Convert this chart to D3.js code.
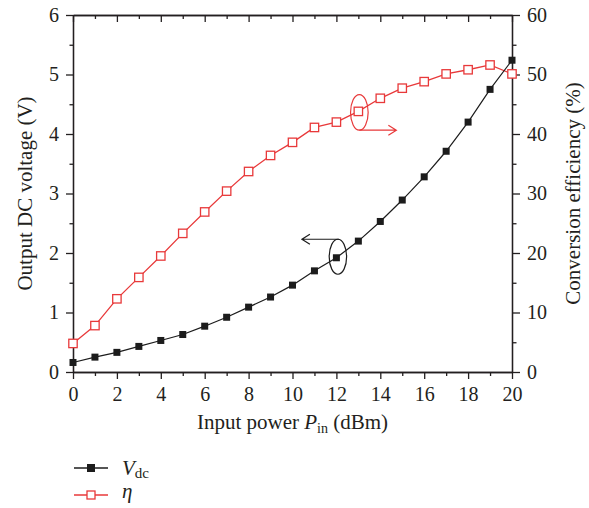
<!DOCTYPE html>
<html>
<head>
<meta charset="utf-8">
<script src="https://cdn.jsdelivr.net/npm/d3@7"></script>
<style>
  body { margin: 0; background: #fff; }
  text { font-family: "Liberation Serif", "DejaVu Serif", serif; fill: #231f20; }
</style>
</head>
<body>
<svg id="chart"></svg>
<script>
const width = 589;
const height = 508;
const margin = { top: 15, right: 77, bottom: 136, left: 73 };

// input power (dBm)
const power = [0, 1, 2, 3, 4, 5, 6, 7, 8, 9, 10, 11, 12, 13, 14, 15, 16, 17, 18, 19, 20];
// output DC voltage (V)
const vdc = [0.16, 0.25, 0.33, 0.43, 0.53, 0.63, 0.77, 0.92, 1.09, 1.26, 1.46,
    1.70, 1.92, 2.20, 2.53, 2.89, 3.28, 3.71, 4.20, 4.75, 5.24];
// conversion efficiency (%)
const eff = [4.8, 7.8, 12.3, 15.9, 19.5, 23.3, 26.9, 30.4, 33.7, 36.4, 38.6,
    41.1, 42.0, 43.8, 46.0, 47.7, 48.8, 50.1, 50.8, 51.6, 50.1];

const xTicks = [0, 2, 4, 6, 8, 10, 12, 14, 16, 18, 20];
const xMinor = [1, 3, 5, 7, 9, 11, 13, 15, 17, 19];
const yTicks = [0, 1, 2, 3, 4, 5, 6];
const yMinor = [0.5, 1.5, 2.5, 3.5, 4.5, 5.5];
const y2Ticks = [0, 10, 20, 30, 40, 50, 60];
const y2Minor = [5, 15, 25, 35, 45, 55];

const red = '#e8393a';
const black = '#1c1c1c';
const axisColor = '#231f20';

const svg = d3.select('#chart')
    .attr('width', width)
    .attr('height', height);

const x = d3.scaleLinear().domain([0, 20]).range([margin.left, width - margin.right]);
const y = d3.scaleLinear().domain([0, 6]).range([height - margin.bottom, margin.top]);
const y2 = d3.scaleLinear().domain([0, 60]).range([height - margin.bottom, margin.top]);

const x0 = margin.left, x1 = width - margin.right;
const yb = height - margin.bottom, yt = margin.top;

function styleAxis(g) {
    g.selectAll('path, line').attr('stroke', axisColor).attr('stroke-width', 1.3);
    g.selectAll('text').attr('font-size', 20).attr('font-family', '"Liberation Serif", serif').attr('fill', axisColor);
}

// bottom axis
svg.append('g').attr('transform', `translate(0, ${yb})`)
    .call(d3.axisBottom(x).tickValues(xTicks).tickSize(7).tickSizeOuter(0).tickPadding(8).tickFormat(d3.format('d')))
    .call(styleAxis);
svg.append('g').attr('transform', `translate(0, ${yb})`)
    .call(d3.axisBottom(x).tickValues(xMinor).tickSize(4).tickSizeOuter(0).tickFormat(''))
    .call(styleAxis);

// top axis, ticks inward
svg.append('g').attr('transform', `translate(0, ${yt})`)
    .call(d3.axisTop(x).tickValues(xTicks).tickSize(-7).tickSizeOuter(0).tickFormat(''))
    .call(styleAxis);
svg.append('g').attr('transform', `translate(0, ${yt})`)
    .call(d3.axisTop(x).tickValues(xMinor).tickSize(-4).tickSizeOuter(0).tickFormat(''))
    .call(styleAxis);

// left axis
svg.append('g').attr('transform', `translate(${x0}, 0)`)
    .call(d3.axisLeft(y).tickValues(yTicks).tickSize(7).tickSizeOuter(0).tickPadding(7).tickFormat(d3.format('d')))
    .call(styleAxis);
svg.append('g').attr('transform', `translate(${x0}, 0)`)
    .call(d3.axisLeft(y).tickValues(yMinor).tickSize(3.5).tickSizeOuter(0).tickFormat(''))
    .call(styleAxis);

// right axis
svg.append('g').attr('transform', `translate(${x1}, 0)`)
    .call(d3.axisRight(y2).tickValues(y2Ticks).tickSize(8).tickSizeOuter(0).tickPadding(7).tickFormat(d3.format('d')))
    .call(styleAxis);
svg.append('g').attr('transform', `translate(${x1}, 0)`)
    .call(d3.axisRight(y2).tickValues(y2Minor).tickSize(4.5).tickSizeOuter(0).tickFormat(''))
    .call(styleAxis);

// axis titles
const xTitle = svg.append('text')
    .attr('x', (x0 + x1) / 2)
    .attr('y', 429)
    .attr('text-anchor', 'middle')
    .attr('font-size', 21);
xTitle.append('tspan').text('Input power ');
xTitle.append('tspan').attr('font-style', 'italic').text('P');
xTitle.append('tspan').attr('font-size', 14).attr('dy', 4).text('in');
xTitle.append('tspan').attr('dy', -4).text(' (dBm)');

svg.append('text')
    .attr('transform', `translate(32, ${(yt + yb) / 2}) rotate(-90)`)
    .attr('text-anchor', 'middle')
    .attr('font-size', 21)
    .text('Output DC voltage (V)');

svg.append('text')
    .attr('transform', `translate(580, ${(yt + yb) / 2}) rotate(-90)`)
    .attr('text-anchor', 'middle')
    .attr('font-size', 21)
    .text('Conversion efficiency (%)');

// series
const vdcData = power.map((p, i) => ({ p: p, v: vdc[i] }));
const effData = power.map((p, i) => ({ p: p, v: eff[i] }));

svg.append('path')
    .datum(effData)
    .attr('fill', 'none')
    .attr('stroke', red)
    .attr('stroke-width', 1.3)
    .attr('d', d3.line().x(d => x(d.p)).y(d => y2(d.v)));

svg.append('path')
    .datum(vdcData)
    .attr('fill', 'none')
    .attr('stroke', black)
    .attr('stroke-width', 1.2)
    .attr('d', d3.line().x(d => x(d.p)).y(d => y(d.v)));

const rs = 4.2;
svg.selectAll('.eff-pt').data(effData).enter().append('rect')
    .attr('class', 'eff-pt')
    .attr('x', d => x(d.p) - rs)
    .attr('y', d => y2(d.v) - rs)
    .attr('width', rs * 2)
    .attr('height', rs * 2)
    .attr('fill', '#fff')
    .attr('stroke', red)
    .attr('stroke-width', 1.3);

const rb = 3.5;
svg.selectAll('.vdc-pt').data(vdcData).enter().append('rect')
    .attr('class', 'vdc-pt')
    .attr('x', d => x(d.p) - rb)
    .attr('y', d => y(d.v) - rb)
    .attr('width', rb * 2)
    .attr('height', rb * 2)
    .attr('fill', black);

// annotations: ellipses with arrows pointing to each axis
const ex = x(12) + 1.5, ey = y(vdc[12]) - 1;
svg.append('ellipse')
    .attr('cx', ex).attr('cy', ey).attr('rx', 8.7).attr('ry', 17.5)
    .attr('fill', 'none').attr('stroke', black).attr('stroke-width', 1.2);
svg.append('path')
    .attr('d', `M${ex + 1},${ey - 17.5} H${ex - 36} M${ex - 28},${ey - 22.5} L${ex - 36},${ey - 17.5} L${ex - 28},${ey - 12.5}`)
    .attr('fill', 'none').attr('stroke', black).attr('stroke-width', 1.2);

const rx = x(13) + 1, ry = y2(eff[13]) + 1;
svg.append('ellipse')
    .attr('cx', rx).attr('cy', ry).attr('rx', 8.8).attr('ry', 17.8)
    .attr('fill', 'none').attr('stroke', red).attr('stroke-width', 1.2);
svg.append('path')
    .attr('d', `M${rx},${ry + 17.8} H${rx + 37} M${rx + 29},${ry + 12.8} L${rx + 37},${ry + 17.8} L${rx + 29},${ry + 22.8}`)
    .attr('fill', 'none').attr('stroke', red).attr('stroke-width', 1.2);

// legend
const legend = svg.append('g');
const lx0 = 74, lx1 = 108;
[[468, black], [495, red]].forEach(([ly, c], i) => {
    legend.append('line').attr('x1', lx0).attr('x2', lx1).attr('y1', ly).attr('y2', ly)
        .attr('stroke', c).attr('stroke-width', 1.3);
    if (i === 0) {
        legend.append('rect').attr('x', (lx0 + lx1) / 2 - 4).attr('y', ly - 4)
            .attr('width', 8).attr('height', 8).attr('fill', c);
    } else {
        legend.append('rect').attr('x', (lx0 + lx1) / 2 - 4).attr('y', ly - 4)
            .attr('width', 8).attr('height', 8).attr('fill', '#fff')
            .attr('stroke', c).attr('stroke-width', 1.3);
    }
});
const lt1 = legend.append('text').attr('x', 122).attr('y', 475).attr('font-size', 21);
lt1.append('tspan').attr('font-style', 'italic').text('V');
lt1.append('tspan').attr('font-size', 15).attr('dy', 3).text('dc');
legend.append('text').attr('x', 122).attr('y', 498).attr('font-size', 21)
    .attr('font-style', 'italic').text('η');
</script>
</body>
</html>
